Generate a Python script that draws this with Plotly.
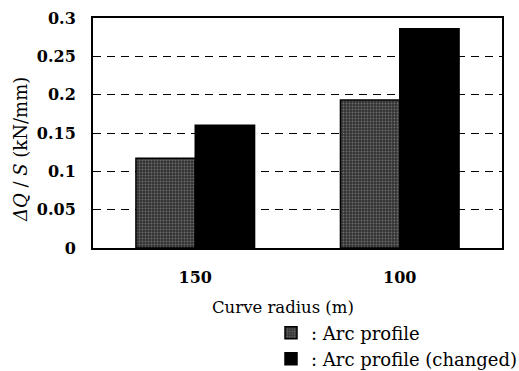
import plotly.graph_objects as go

categories = ["150", "100"]
arc_profile = [0.117, 0.193]
arc_changed = [0.160, 0.286]
y_ticks = [0, 0.05, 0.1, 0.15, 0.2, 0.25, 0.3]
y_tick_labels = ["0", "0.05", "0.1", "0.15", "0.2", "0.25", "0.3"]

serif = "DejaVu Serif"

fig = go.Figure()
fig.add_trace(go.Bar(
    x=categories, y=arc_profile, name=": Arc profile", legend="legend",
    marker=dict(color="#333333", line=dict(color="black", width=1.5),
                pattern=dict(shape=".", fgcolor="#a8a8a8", size=3, solidity=0.3)),
))
fig.add_trace(go.Bar(
    x=categories, y=arc_changed, name=": Arc profile (changed)", legend="legend2",
    marker=dict(color="black", line=dict(color="black", width=1.5)),
))

legend_common = dict(xanchor="left", yanchor="middle",
                     font=dict(family=serif, size=18, color="black"),
                     itemwidth=30, bgcolor="rgba(0,0,0,0)")

fig.update_layout(
    width=519, height=371,
    margin=dict(l=93, r=17, t=18, b=123, autoexpand=False),
    plot_bgcolor="white", paper_bgcolor="white",
    barmode="group", bargap=0.42, bargroupgap=0,
    font=dict(family=serif, size=15, color="black"),
    legend=dict(x=(271 - 93) / 409, y=(248 - 333) / 230, **legend_common),
    legend2=dict(x=(271 - 93) / 409, y=(248 - 359) / 230, **legend_common),
    showlegend=True,
    annotations=[
        dict(text="Curve radius (m)", x=(283 - 93) / 409, y=(248 - 307) / 230,
             xref="paper", yref="paper", showarrow=False,
             xanchor="center", yanchor="middle",
             font=dict(family=serif, size=16.5, color="black")),
        dict(text="<i>ΔQ</i> / <i>S</i> (kN/mm)", x=(20 - 93) / 409, y=(248 - 150) / 230,
             xref="paper", yref="paper", showarrow=False, textangle=-90,
             xanchor="center", yanchor="middle",
             font=dict(family=serif, size=18, color="black")),
    ],
)
fig.update_xaxes(
    showline=True, linecolor="black", linewidth=2, mirror=True,
    ticks="", ticklabelstandoff=14,
    tickfont=dict(family=serif, size=16, weight="bold"),
)
fig.update_yaxes(
    range=[0, 0.3], tickvals=y_ticks, ticktext=y_tick_labels,
    showline=True, linecolor="black", linewidth=2, mirror=True,
    showgrid=True, gridcolor="black", griddash="8px,6px", gridwidth=1,
    zeroline=False, ticks="", ticklabelstandoff=12,
    tickfont=dict(family=serif, size=16, weight="bold"),
)

fig.write_html("out.html")
